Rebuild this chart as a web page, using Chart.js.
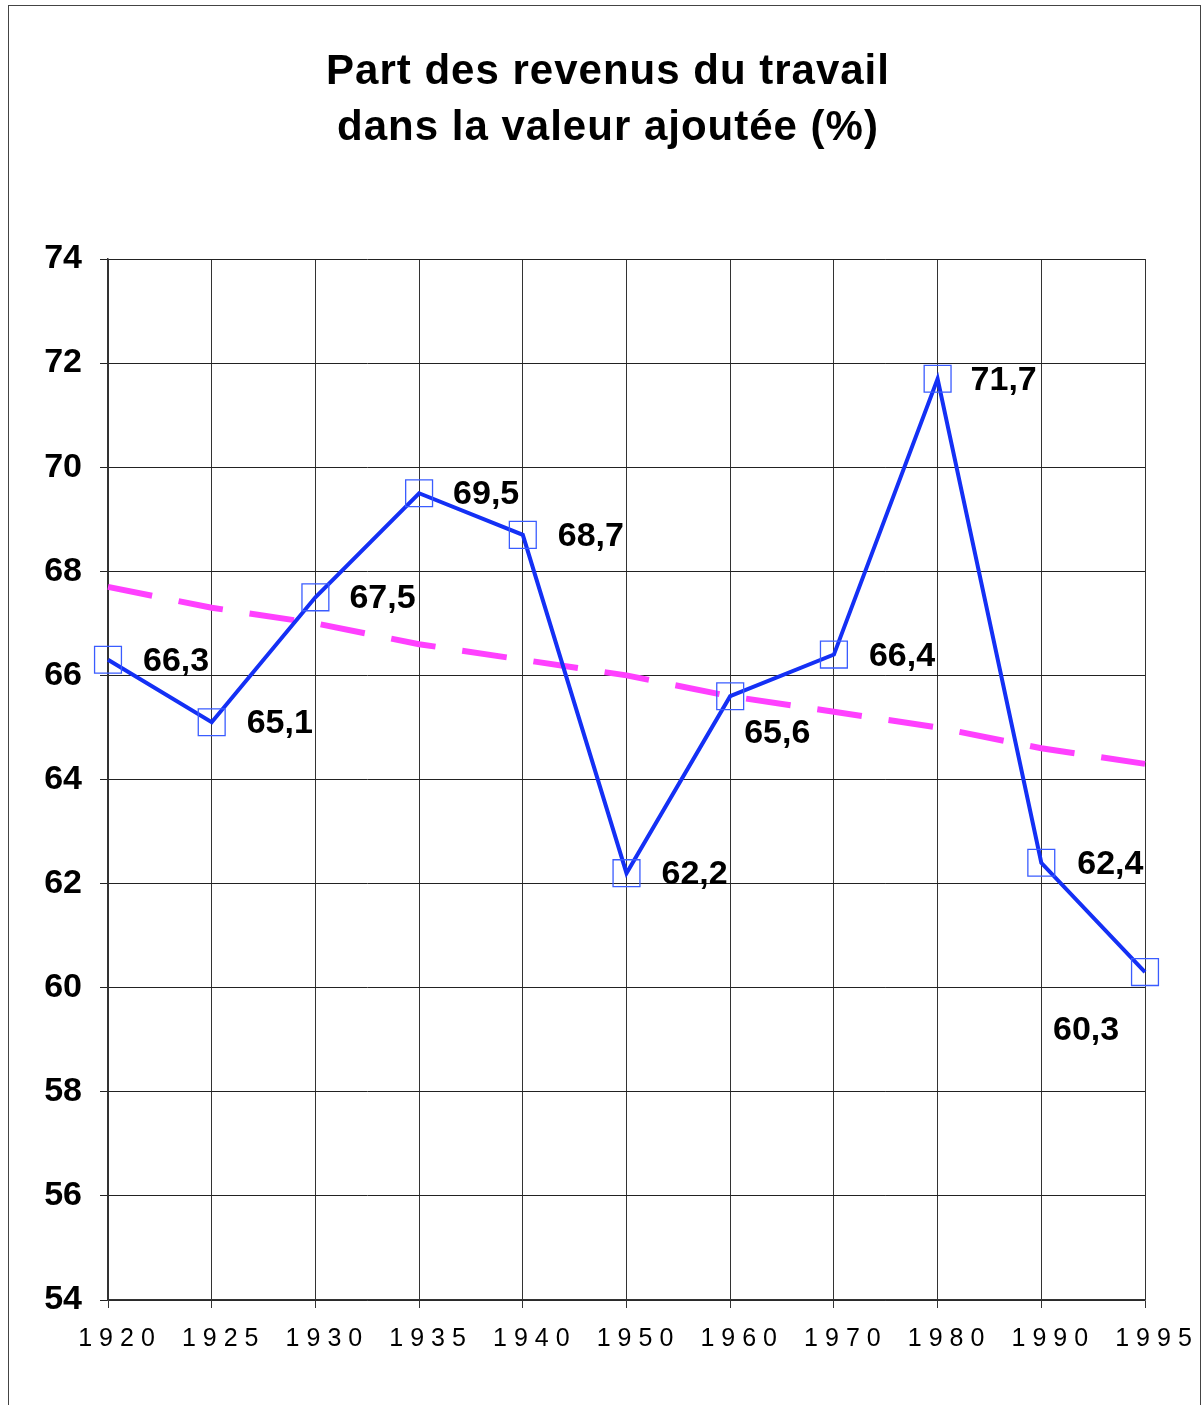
<!DOCTYPE html>
<html lang="fr">
<head>
<meta charset="UTF-8">
<title>Part des revenus du travail dans la valeur ajoutée</title>
<script src="https://cdn.jsdelivr.net/npm/chart.js@4.4.0/dist/chart.umd.min.js"></script>
<style>
    * {
        margin: 0;
        padding: 0;
        box-sizing: border-box;
    }

    body {
        background: white;
        width: 1202px;
        height: 1405px;
        overflow: hidden;
        font-family: "Liberation Sans", Arial, sans-serif;
    }

    .chart-box {
        position: absolute;
        left: 0;
        top: 0;
        width: 1202px;
        height: 1405px;
    }

    /* outer frame of the original picture */
    .frame {
        position: absolute;
        left: 8px;
        top: 5px;
        width: 1193px;
        height: 1430px;
        border: 1.5px solid #444;
        pointer-events: none;
    }
</style>
</head>
<body>
<div class="chart-box"><canvas id="shareChart"></canvas></div>
<div class="frame"></div>

<script>
const years = ['1920', '1925', '1930', '1935', '1940', '1950', '1960', '1970', '1980', '1990', '1995'];
const labourShare = [66.3, 65.1, 67.5, 69.5, 68.7, 62.2, 65.6, 66.4, 71.7, 62.4, 60.3];
// dashed trend line
const trendLine = [67.7, 67.3, 67.0, 66.6, 66.3, 66.0, 65.6, 65.3, 65.0, 64.6, 64.3];
const yTicks = [54, 56, 58, 60, 62, 64, 66, 68, 70, 72, 74];

const titleLines = ['Part des revenus du travail', 'dans la valeur ajoutée (%)'];
const FONT = '"Liberation Sans", Arial, sans-serif';

// where each value label sits relative to its point: [dx to text left, dy to baseline]
const labelOffsets = [
    [35, 11], [35, 11], [34, 11], [34, 11], [35, 11], [35, 11],
    [14, 47], [35, 11], [33, 11], [36, 11], [-92, 68]
];

const titlePlugin = {
    id: 'titleText',
    afterDraw(chart) {
        const ctx = chart.ctx;
        ctx.save();
        ctx.fillStyle = '#000';
        ctx.font = 'bold 42px ' + FONT;
        ctx.letterSpacing = '1px';
        ctx.textAlign = 'center';
        ctx.textBaseline = 'alphabetic';
        ctx.fillText(titleLines[0], 608, 84);
        ctx.fillText(titleLines[1], 608, 140);
        ctx.restore();
    }
};

const valueLabels = {
    id: 'valueLabels',
    afterDatasetsDraw(chart) {
        const ctx = chart.ctx;
        const meta = chart.getDatasetMeta(0);
        ctx.save();
        ctx.fillStyle = '#000';
        ctx.font = 'bold 34px ' + FONT;
        ctx.textAlign = 'left';
        ctx.textBaseline = 'alphabetic';
        meta.data.forEach((pt, i) => {
            const txt = labourShare[i].toFixed(1).replace('.', ',');
            const off = labelOffsets[i];
            ctx.fillText(txt, pt.x + off[0], pt.y + off[1]);
        });
        ctx.restore();
    }
};

const spacedXLabels = {
    id: 'spacedXLabels',
    afterDraw(chart) {
        const ctx = chart.ctx;
        const xs = chart.scales.x;
        ctx.save();
        ctx.fillStyle = '#000';
        ctx.font = '25px ' + FONT;
        ctx.letterSpacing = '7px';
        ctx.textAlign = 'center';
        ctx.textBaseline = 'alphabetic';
        years.forEach((y, i) => {
            ctx.fillText(y, xs.getPixelForTick(i) + 12, 1346);
        });
        ctx.restore();
    }
};

const shareChart = new Chart(document.getElementById('shareChart'), {
    type: 'line',
    data: {
        labels: years,
        datasets: [
            {
                label: 'Part des revenus du travail',
                data: labourShare,
                borderColor: '#1430f5',
                borderWidth: 4,
                pointStyle: 'rect',
                pointRadius: 19,
                pointBorderWidth: 1.3,
                pointBorderColor: '#3a5cff',
                pointBackgroundColor: 'rgba(0,0,0,0)',
                tension: 0
            },
            {
                label: 'Tendance',
                data: trendLine,
                borderColor: '#ff40ff',
                borderWidth: 6,
                borderDash: [45, 27],
                borderCapStyle: 'butt',
                pointRadius: 0,
                tension: 0
            }
        ]
    },
    options: {
        responsive: true,
        maintainAspectRatio: false,
        animation: false,
        devicePixelRatio: 1,
        layout: {
            padding: { top: 259, right: 57, left: 0, bottom: 0 }
        },
        plugins: {
            legend: { display: false },
            tooltip: { enabled: false },
            title: { display: false }
        },
        scales: {
            x: {
                type: 'category',
                offset: false,
                grid: { color: '#333', lineWidth: 1, tickLength: 8 },
                border: { color: '#333', width: 1.5 },
                ticks: { display: false, autoSkip: false },
                afterFit(scale) { scale.height = 105; }
            },
            y: {
                min: 54,
                max: 74,
                grid: { color: '#222', lineWidth: 1, tickLength: 8 },
                border: { color: '#333', width: 1.5 },
                ticks: {
                    color: '#000',
                    padding: 18,
                    font: { family: FONT, size: 34, weight: 'bold' }
                },
                afterBuildTicks(scale) {
                    scale.ticks = yTicks.map(v => ({ value: v }));
                },
                afterFit(scale) { scale.width = 108; }
            }
        }
    },
    plugins: [titlePlugin, valueLabels, spacedXLabels]
});
</script>
</body>
</html>
